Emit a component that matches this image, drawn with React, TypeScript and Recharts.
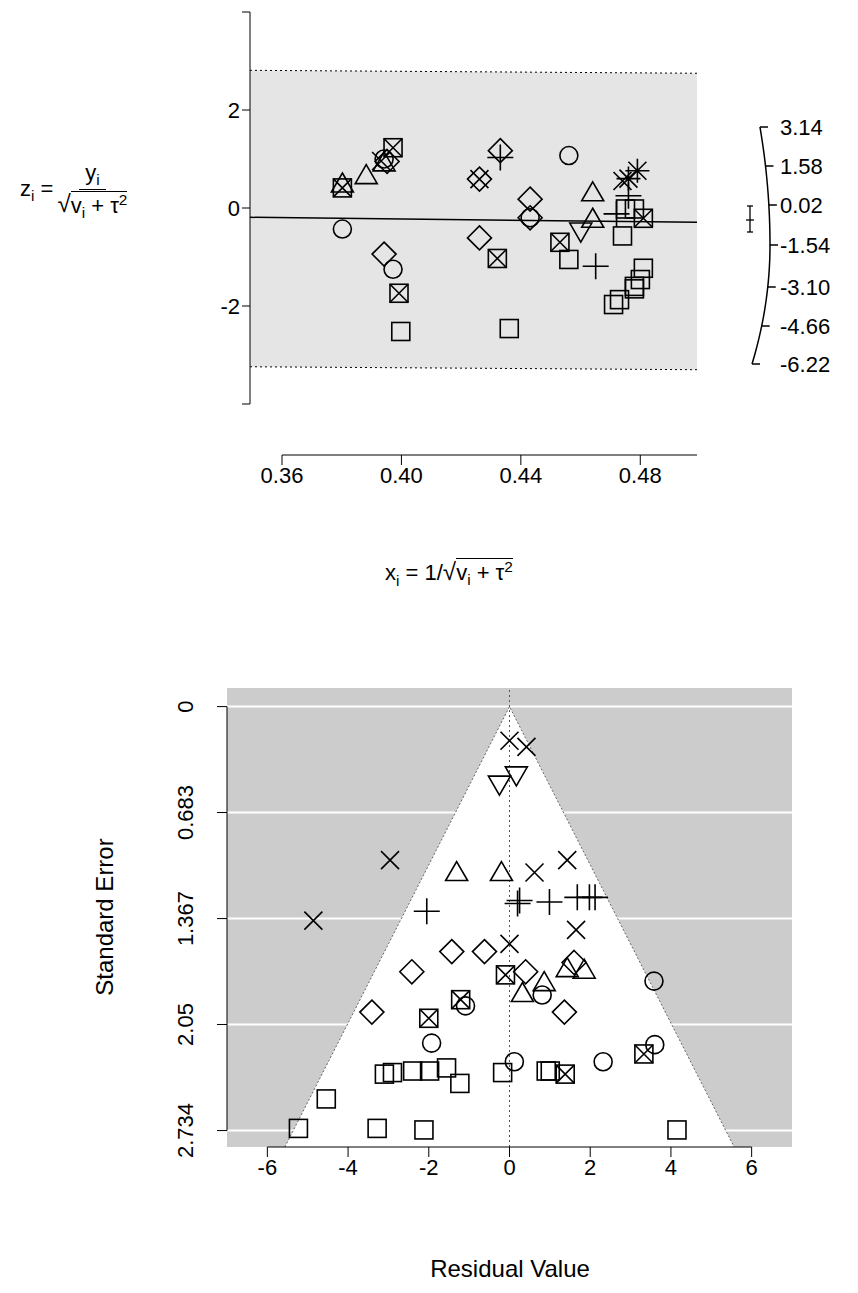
import React from 'react';
import {
  ComposedChart, Scatter, Line, Area, XAxis, YAxis, CartesianGrid, ReferenceLine,
} from 'recharts';

const FONT = '"Liberation Sans", Arial, sans-serif';

// ---------- radial (Galbraith) plot ----------
const radialBand = [
  { x: 0.349, lo: -3.24, fit: -0.19, hi: 2.81 },
  { x: 0.499, lo: -3.30, fit: -0.29, hi: 2.75 },
];
const radialXTicks = [0.36, 0.40, 0.44, 0.48];
const radialYTicks = [-4, -2, 0, 2, 4];
const arcTicks = ['3.14', '1.58', '0.02', '-1.54', '-3.10', '-4.66', '-6.22'];

const radialSquares = [
  [0.3996, -2.52], [0.436, -2.46], [0.456, -1.05], [0.474, -0.57], [0.475, -0.02],
  [0.478, -0.02], [0.481, -1.23], [0.480, -1.46], [0.478, -1.6], [0.478, -1.65],
  [0.473, -1.87], [0.471, -1.97],
];
const radialBoxX = [
  [0.380, 0.41], [0.397, 1.23], [0.399, -1.74], [0.432, -1.03], [0.453, -0.70], [0.481, -0.21],
];
const radialTriangles = [
  [0.380, 0.49], [0.388, 0.66], [0.394, 0.92], [0.464, 0.31], [0.464, -0.23],
];
const radialCircles = [
  [0.380, -0.43], [0.394, 1.0], [0.397, -1.25], [0.456, 1.07], [0.443, -0.2],
];
const radialDiamonds = [
  [0.394, -0.94], [0.426, 0.59], [0.433, 1.17], [0.426, -0.61], [0.443, 0.18],
  [0.443, -0.2], [0.395, 0.95],
];
const radialCrosses = [[0.426, 0.59], [0.393, 0.96], [0.474, 0.55]];
const radialPluses = [[0.465, -1.19], [0.476, 0.25], [0.472, -0.12], [0.433, 1.03]];
const radialStars = [[0.479, 0.76], [0.476, 0.6]];
const radialDown = [[0.460, -0.47]];

// ---------- funnel plot ----------
const seMax = 2.84;
const funnelEdge = [
  { x: -1.96 * seMax, lo: seMax, hi: seMax },
  { x: 0, lo: 0, hi: seMax },
  { x: 1.96 * seMax, lo: seMax, hi: seMax },
];
const funnelXTicks = [-6, -4, -2, 0, 2, 4, 6];
const funnelYTicks = [0, 0.683, 1.367, 2.05, 2.734];

const funnelCrosses = [
  [0, 0.22], [0.42, 0.26], [-2.96, 0.99], [-4.86, 1.38], [0.62, 1.07], [1.43, 0.99],
  [1.65, 1.44], [0, 1.53],
];
const funnelDown = [[0.17, 0.44], [-0.25, 0.50]];
const funnelTriangles = [
  [-1.31, 1.07], [-0.2, 1.07], [0.86, 1.78], [1.43, 1.69], [1.85, 1.70], [0.32, 1.85],
];
const funnelPluses = [
  [-2.05, 1.32], [0.25, 1.25], [0.2, 1.27], [0.99, 1.26], [1.68, 1.23], [1.98, 1.23], [2.12, 1.23],
];
const funnelDiamonds = [
  [-2.42, 1.71], [-1.43, 1.58], [-0.62, 1.58], [-3.41, 1.97], [0.4, 1.71], [1.6, 1.65], [1.36, 1.97],
];
const funnelBoxX = [[-0.1, 1.73], [-1.21, 1.89], [-2.0, 2.01], [3.33, 2.24], [1.38, 2.37]];
const funnelCircles = [
  [-1.09, 1.93], [0.81, 1.86], [3.58, 1.77], [-1.93, 2.17], [0.12, 2.29], [2.32, 2.29], [3.6, 2.18],
];
const funnelSquares = [
  [-3.1, 2.37], [-2.9, 2.36], [-2.4, 2.35], [-1.98, 2.35], [-1.56, 2.33], [-1.23, 2.43],
  [-0.17, 2.36], [0.91, 2.35], [1.01, 2.35], [-4.54, 2.53], [-5.23, 2.72], [-3.28, 2.72],
  [-2.12, 2.73], [4.15, 2.73],
];

const pts = (arr: number[][]) => arr.map(([x, y]) => ({ x, y }));

type Kind = 'square' | 'circle' | 'tri' | 'down' | 'diamond' | 'cross' | 'plus' | 'boxx' | 'star';

function makeShape(kind: Kind) {
  return (props: any) => {
    const { cx, cy } = props;
    const s = 9;
    const common = { fill: 'none', stroke: '#000', strokeWidth: 1.6 };
    switch (kind) {
      case 'square':
        return <rect x={cx - s} y={cy - s} width={2 * s} height={2 * s} {...common} />;
      case 'circle':
        return <circle cx={cx} cy={cy} r={s} {...common} />;
      case 'tri':
        return <path d={`M${cx},${cy - 11}L${cx + 11},${cy + 8}L${cx - 11},${cy + 8}Z`} {...common} />;
      case 'down':
        return <path d={`M${cx},${cy + 11}L${cx + 11},${cy - 8}L${cx - 11},${cy - 8}Z`} {...common} />;
      case 'diamond':
        return <path d={`M${cx},${cy - 12}L${cx + 12},${cy}L${cx},${cy + 12}L${cx - 12},${cy}Z`} {...common} />;
      case 'cross':
        return <path d={`M${cx - 9},${cy - 9}L${cx + 9},${cy + 9}M${cx + 9},${cy - 9}L${cx - 9},${cy + 9}`} {...common} />;
      case 'plus':
        return <path d={`M${cx - 13},${cy}L${cx + 13},${cy}M${cx},${cy - 13}L${cx},${cy + 13}`} {...common} />;
      case 'star':
        return (
          <path
            d={`M${cx - 12},${cy}L${cx + 12},${cy}M${cx},${cy - 12}L${cx},${cy + 12}M${cx - 9},${cy - 9}L${cx + 9},${cy + 9}M${cx + 9},${cy - 9}L${cx - 9},${cy + 9}`}
            {...common}
          />
        );
      case 'boxx':
      default:
        return (
          <g {...common}>
            <rect x={cx - s} y={cy - s} width={2 * s} height={2 * s} />
            <path d={`M${cx - s},${cy - s}L${cx + s},${cy + s}M${cx + s},${cy - s}L${cx - s},${cy + s}`} />
          </g>
        );
    }
  };
}

const tickStyle = { fontSize: 22, fill: '#000', fontFamily: FONT };

function RotatedTick(props: any) {
  const { x, y, payload } = props;
  const tx = x - 22;
  return (
    <text x={tx} y={y} transform={`rotate(-90 ${tx} ${y})`} textAnchor="middle" style={tickStyle}>
      {String(payload.value)}
    </text>
  );
}

function ArcScale() {
  const ys = [127, 166, 205, 245, 287, 326, 364];
  const arcX = (y: number) => (y < 245 ? 770 - 0.00072 * (y - 245) ** 2 : 770 - 0.00127 * (y - 245) ** 2);
  const path = Array.from({ length: 60 }, (_, i) => {
    const y = 127 + (i * (364 - 127)) / 59;
    return `${i ? 'L' : 'M'}${arcX(y)},${y}`;
  }).join('');
  return (
    <svg width={858} height={420} style={{ position: 'absolute', left: 0, top: 0 }}>
      <path d={path} fill="none" stroke="#000" strokeWidth={1.5} />
      {arcTicks.map((t, i) => (
        <g key={t}>
          <line x1={arcX(ys[i])} x2={arcX(ys[i]) + 8} y1={ys[i]} y2={ys[i]} stroke="#000" strokeWidth={1.5} />
          <text x={780} y={ys[i] + 8} style={tickStyle}>{t}</text>
        </g>
      ))}
      <line x1={750} x2={750} y1={206} y2={232} stroke="#000" strokeWidth={1.3} />
      <line x1={747} x2={753} y1={206} y2={206} stroke="#000" strokeWidth={1.3} />
      <line x1={747} x2={753} y1={232} y2={232} stroke="#000" strokeWidth={1.3} />
      <line x1={746} x2={754} y1={220} y2={220} stroke="#000" strokeWidth={1.3} />
    </svg>
  );
}

const Sqrt = ({ children }: { children: React.ReactNode }) => (
  <span style={{ whiteSpace: 'nowrap' }}>
    <span style={{ fontSize: '1.1em' }}>√</span>
    <span style={{ borderTop: '1.5px solid #000', paddingTop: 1 }}>{children}</span>
  </span>
);

const inner = (
  <>
    v<sub style={{ fontSize: '0.7em' }}>i</sub> + τ<sup style={{ fontSize: '0.7em' }}>2</sup>
  </>
);

export default function App() {
  const radialSeries: [number[][], Kind][] = [
    [radialSquares, 'square'], [radialBoxX, 'boxx'], [radialTriangles, 'tri'], [radialCircles, 'circle'],
    [radialDiamonds, 'diamond'], [radialCrosses, 'cross'], [radialPluses, 'plus'], [radialStars, 'star'],
    [radialDown, 'down'],
  ];
  const funnelSeries: [number[][], Kind][] = [
    [funnelSquares, 'square'], [funnelBoxX, 'boxx'], [funnelTriangles, 'tri'], [funnelCircles, 'circle'],
    [funnelDiamonds, 'diamond'], [funnelCrosses, 'cross'], [funnelPluses, 'plus'], [funnelDown, 'down'],
  ];
  return (
    <div style={{ position: 'absolute', left: 0, top: 0, width: 858, height: 1293, background: '#fff', fontFamily: FONT }}>
      {/* radial plot */}
      <div style={{ position: 'absolute', left: 0, top: 0 }}>
        <ComposedChart width={858} height={420} margin={{ top: 12, bottom: 16, left: 0, right: 161 }}>
          <XAxis type="number" dataKey="x" domain={[0.349, 0.499]} hide allowDataOverflow />
          <YAxis
            type="number" domain={[-4, 4]} ticks={radialYTicks} width={250} tickSize={8}
            tick={tickStyle} stroke="#000" tickFormatter={(v) => (Math.abs(v) === 4 ? '' : String(v))}
          />
          <Area data={radialBand} dataKey={(d: any) => [d.lo, d.hi]} stroke="none" fill="#e5e5e5" fillOpacity={1} isAnimationActive={false} />
          <Line data={radialBand} dataKey="hi" stroke="#000" strokeDasharray="2 3" dot={false} isAnimationActive={false} />
          <Line data={radialBand} dataKey="lo" stroke="#000" strokeDasharray="2 3" dot={false} isAnimationActive={false} />
          <Line data={radialBand} dataKey="fit" stroke="#000" strokeWidth={1.5} dot={false} isAnimationActive={false} />
          {radialSeries.map(([d, k]) => (
            <Scatter key={k} data={pts(d)} dataKey="y" shape={makeShape(k)} isAnimationActive={false} />
          ))}
        </ComposedChart>
      </div>
      <ArcScale />
      {/* radial x axis */}
      <div style={{ position: 'absolute', left: 0, top: 435 }}>
        <ComposedChart width={858} height={110} margin={{ top: 0, bottom: 0, left: 282, right: 161 }}>
          <XAxis
            type="number" dataKey="x" domain={[0.36, 0.499]} ticks={radialXTicks}
            tickFormatter={(v) => v.toFixed(2)} tick={tickStyle} stroke="#000" tickSize={10} height={90} allowDataOverflow
          />
          <YAxis hide domain={[0, 1]} width={0} />
          <Scatter data={radialXTicks.map((x) => ({ x, y: 0.5 }))} dataKey="y" shape={() => <g />} isAnimationActive={false} />
        </ComposedChart>
      </div>
      <div style={{ position: 'absolute', left: 385, top: 558, fontSize: 22 }}>
        x<sub style={{ fontSize: '0.7em' }}>i</sub> = 1/<Sqrt>{inner}</Sqrt>
      </div>
      <div style={{ position: 'absolute', left: 20, top: 160, fontSize: 22, display: 'flex', alignItems: 'center' }}>
        <span>z<sub style={{ fontSize: '0.7em' }}>i</sub> =</span>
        <span style={{ display: 'inline-flex', flexDirection: 'column', alignItems: 'center', marginLeft: 4 }}>
          <span style={{ borderBottom: '1.5px solid #000', padding: '0 6px' }}>
            y<sub style={{ fontSize: '0.7em' }}>i</sub>
          </span>
          <Sqrt>{inner}</Sqrt>
        </span>
      </div>

      {/* funnel plot */}
      <div style={{ position: 'absolute', left: 0, top: 688 }}>
        <ComposedChart width={858} height={560} margin={{ top: 0, bottom: 0, left: 0, right: 66 }}>
          <CartesianGrid fill="#cccccc" stroke="#fff" strokeWidth={2} vertical={false} horizontalValues={funnelYTicks} />
          <XAxis
            type="number" dataKey="x" domain={[-7, 7]} ticks={funnelXTicks} tick={tickStyle} stroke="#000"
            axisLine={false} tickSize={10} height={101} allowDataOverflow
          />
          <YAxis
            type="number" domain={[-0.12, seMax]} reversed ticks={funnelYTicks} width={227} tickSize={10}
            axisLine={false} tick={<RotatedTick />} stroke="#000" allowDataOverflow
          />
          <Area data={funnelEdge} dataKey={(d: any) => [d.lo, d.hi]} stroke="none" fill="#fff" fillOpacity={1} isAnimationActive={false} />
          <Line data={funnelEdge} dataKey="lo" stroke="#666" strokeDasharray="2 2" dot={false} isAnimationActive={false} />
          <ReferenceLine x={0} stroke="#555" strokeDasharray="2 3" />
          <ReferenceLine segment={[{ x: -6, y: seMax }, { x: 6, y: seMax }]} stroke="#000" ifOverflow="visible" />
          <ReferenceLine segment={[{ x: -7, y: 0 }, { x: -7, y: 2.734 }]} stroke="#000" ifOverflow="visible" />
          {funnelSeries.map(([d, k]) => (
            <Scatter key={k} data={pts(d)} dataKey="y" shape={makeShape(k)} isAnimationActive={false} />
          ))}
        </ComposedChart>
      </div>
      <div style={{ position: 'absolute', left: 0, top: 1255, width: 1020, textAlign: 'center', fontSize: 24 }}>
        Residual Value
      </div>
      <div
        style={{
          position: 'absolute', left: 105, top: 917, fontSize: 24, whiteSpace: 'nowrap',
          transform: 'translate(-50%, -50%) rotate(-90deg)',
        }}
      >
        Standard Error
      </div>
    </div>
  );
}
